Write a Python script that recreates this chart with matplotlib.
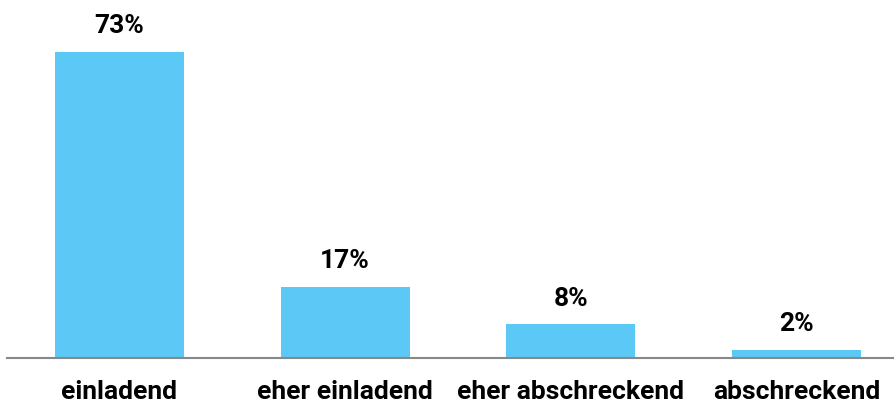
import matplotlib
matplotlib.use("Agg")
import matplotlib.pyplot as plt

# data
categories = ['einladend', 'eher einladend', 'eher abschreckend', 'abschreckend']
values = [73, 17, 8, 2]

bar_color = '#5BC8F5'
plt.rcParams['font.family'] = ['Roboto', 'DejaVu Sans']

fig = plt.figure(figsize=(8.94, 4.05), dpi=100)
ax = fig.add_axes([7 / 894, 47 / 405, 887 / 894, 306 / 405])

x = range(len(categories))
bars = ax.bar(x, values, width=0.571, color=bar_color)

ax.set_xlim(-0.498, 3.431)
ax.set_ylim(0, 73)

for b, v in zip(bars, values):
    ax.annotate(f'{v}%', (b.get_x() + b.get_width() / 2, b.get_height()),
                xytext=(0, 10), textcoords='offset points',
                ha='center', va='bottom', fontsize=19, fontweight='bold',
                annotation_clip=False)

ax.set_xticks(list(x))
ax.set_xticklabels(categories, fontsize=19, fontweight='bold')
ax.tick_params(axis='x', length=0, pad=16)
ax.set_yticks([])

for side in ['top', 'right', 'left']:
    ax.spines[side].set_visible(False)
ax.spines['bottom'].set_color('#888888')
ax.spines['bottom'].set_linewidth(1.5)

fig.savefig('out.png', dpi=100)
